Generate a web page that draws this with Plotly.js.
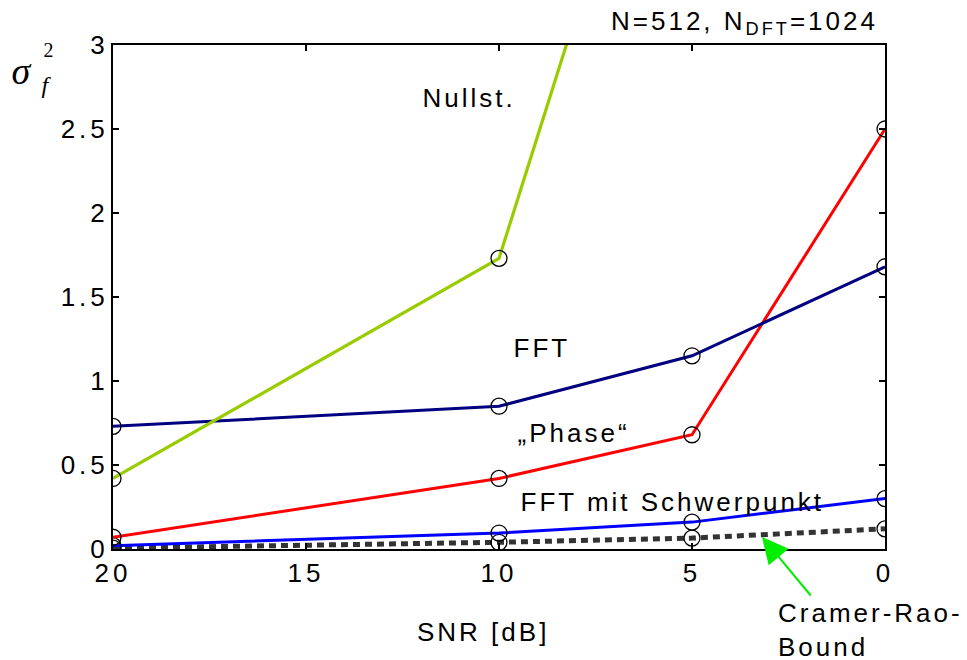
<!DOCTYPE html>
<html>
<head>
<meta charset="utf-8">
<script src="https://cdn.plot.ly/plotly-3.0.1.min.js"></script>
<style>
  html, body { margin: 0; padding: 0; background: #fff; }
  #chart { width: 967px; height: 660px; }
  .main-svg .annotation-text { letter-spacing: 3px; }
  .main-svg .xtick text, .main-svg .ytick text { letter-spacing: 4px; }
</style>
</head>
<body>
<div id="chart"></div>
<script>
// SNR values in dB (x axis, reversed)
const snr = [20, 10, 5, 0];
// variance estimates per method
const nullst = [0.42, 1.73, 5.37, null];
const fft = [0.73, 0.85, 1.15, 1.68];
const phase = [0.07, 0.42, 0.68, 2.50];
const fftSchwerpunkt = [0.02, 0.095, 0.16, 0.30];
const cramerRao = [0.005, 0.04, 0.065, 0.12];

const xTicks = [20, 15, 10, 5, 0];
const yTicks = [0, 0.5, 1, 1.5, 2, 2.5, 3];
const yTickText = ['0', '0.5', '1', '1.5', '2', '2.5', '3'];

const FONT = 'Liberation Sans, Arial, sans-serif';
const SERIF = 'Liberation Serif, Times New Roman, serif';

const markerStyle = { symbol: 'circle-open', size: 16, color: '#000', line: { width: 1.3, color: '#000' } };

function tr(y, color, width, dash) {
  return {
    x: snr, y: y, type: 'scatter', mode: 'lines+markers',
    line: { color: color, width: width, dash: dash || 'solid' },
    marker: markerStyle, cliponaxis: true, showlegend: false, hoverinfo: 'skip'
  };
}

const data = [
  tr(cramerRao, '#333333', 5, '7px,5px'),
  tr(fftSchwerpunkt, '#0000ff', 3),
  tr(phase, '#ff0000', 3),
  tr(fft, '#000080', 3),
  tr(nullst, '#99cc00', 3.2)
];

const ann = (text, x, y, size, extra) => Object.assign({
  text: text, xref: 'paper', yref: 'paper', x: x, y: y,
  showarrow: false, xanchor: 'center', yanchor: 'middle',
  font: { family: FONT, size: size, color: '#000' }
}, extra || {});

const layout = {
  width: 967, height: 660,
  margin: { l: 113, r: 82, t: 45, b: 111 },
  paper_bgcolor: '#fff', plot_bgcolor: '#fff',
  showlegend: false,
  font: { family: FONT, color: '#000' },
  xaxis: {
    range: [20, 0], tickvals: xTicks, ticktext: xTicks.map(String),
    ticks: 'inside', ticklen: 6, tickwidth: 1.5, tickcolor: '#000',
    showline: true, linecolor: '#000', linewidth: 2, mirror: 'ticks',
    showgrid: false, zeroline: false,
    tickfont: { family: FONT, size: 26, color: '#000' }
  },
  yaxis: {
    range: [0, 3], tickvals: yTicks, ticktext: yTickText,
    ticks: 'inside', ticklen: 6, tickwidth: 1.5, tickcolor: '#000',
    showline: true, linecolor: '#000', linewidth: 2, mirror: 'ticks',
    showgrid: false, zeroline: false, ticklabelstandoff: -3,
    tickfont: { family: FONT, size: 26, color: '#000' }
  },
  annotations: [
    ann('N=512, N<sub>DFT</sub>=1024', 0.818, 1.0456, 26),
    ann('Nullst.', 0.4605, 0.8958, 26),
    ann('FFT', 0.5551, 0.3988, 26),
    ann('„Phase“', 0.5966, 0.2302, 26),
    ann('FFT mit Schwerpunkt', 0.7248, 0.0933, 26),
    ann('Cramer-Rao-<br>Bound', 0.8588, -0.160, 26, { xanchor: 'left', align: 'left' }),
    ann('SNR [dB]', 0.4787, -0.1647, 26),
    ann('<i>σ</i>', -0.1166, 0.948, 38, { font: { family: SERIF, size: 38, color: '#000' } }),
    ann('2', -0.0822, 0.990, 20, { font: { family: SERIF, size: 20, color: '#000' } }),
    ann('<i>f</i>', -0.0848, 0.9206, 24, { font: { family: SERIF, size: 24, color: '#000' } }),
    {
      text: '', xref: 'paper', yref: 'paper', x: (762 - 113) / 772, y: (549 - 537) / 504,
      showarrow: true, ax: 50, ay: 60, axref: 'pixel', ayref: 'pixel',
      arrowcolor: '#00ee00', arrowwidth: 2, arrowhead: 2, arrowsize: 2.6
    }
  ]
};

Plotly.newPlot('chart', data, layout, { staticPlot: true, displayModeBar: false });
</script>
</body>
</html>
